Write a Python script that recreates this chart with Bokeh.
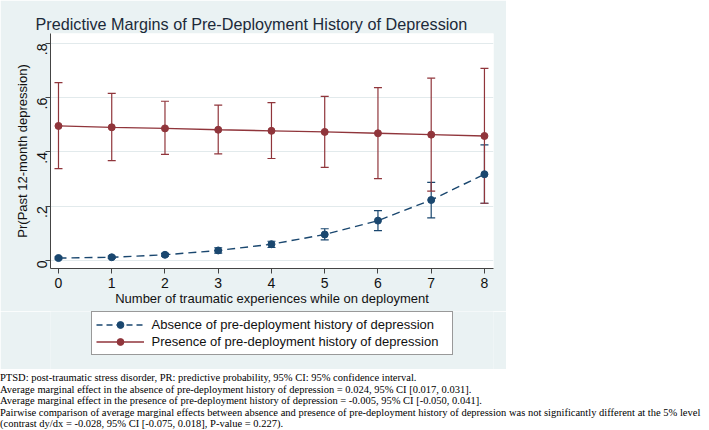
import math
from bokeh.plotting import figure
from bokeh.models import (Range1d, FixedTicker, Whisker, TeeHead, ColumnDataSource,
                          Legend, LegendItem, Div)
from bokeh.layouts import column
from bokeh.embed import file_html
from bokeh.resources import INLINE

# ---------------- data ----------------
x_vals = [0, 1, 2, 3, 4, 5, 6, 7, 8]
absence_pr = [0.009, 0.012, 0.021, 0.037, 0.060, 0.096, 0.147, 0.223, 0.318]
absence_lo = [0.005, 0.008, 0.016, 0.027, 0.048, 0.076, 0.110, 0.157, 0.211]
absence_hi = [0.013, 0.016, 0.026, 0.047, 0.071, 0.117, 0.184, 0.288, 0.426]
presence_pr = [0.496, 0.491, 0.487, 0.482, 0.478, 0.474, 0.469, 0.464, 0.459]
presence_lo = [0.339, 0.368, 0.391, 0.393, 0.376, 0.343, 0.302, 0.256, 0.211]
presence_hi = [0.656, 0.616, 0.587, 0.573, 0.582, 0.605, 0.637, 0.672, 0.708]

y_ticks = [0, 0.2, 0.4, 0.6, 0.8]
y_tick_labels = ["0", ".2", ".4", ".6", ".8"]
x_tick_labels = ["0", "1", "2", "3", "4", "5", "6", "7", "8"]

title_text = "Predictive Margins of Pre-Deployment History of Depression"
x_label = "Number of traumatic experiences while on deployment"
y_label = "Pr(Past 12-month depression)"
legend_labels = ["Absence of pre-deployment history of depression",
                 "Presence of pre-deployment history of depression"]
footer_lines = [
    "PTSD: post-traumatic stress disorder, PR: predictive probability, 95% CI: 95% confidence interval.",
    "Average marginal effect in the absence of pre-deployment history of depression = 0.024, 95% CI [0.017, 0.031].",
    "Average marginal effect in the presence of pre-deployment history of depression = -0.005, 95% CI [-0.050, 0.041].",
    "Pairwise comparison of average marginal effects between absence and presence of pre-deployment history of depression was not significantly different at the 5% level",
    "(contrast dy/dx = -0.028, 95% CI [-0.075, 0.018], P-value = 0.227).",
]

# ---------------- style ----------------
BG = "#eaf2f3"
NAVY = "#1a476f"
CRAN = "#90353b"
FONT = "Liberation Sans"
PANEL_W = 506
PLOT_H, LEG_H, FOOT_H = 311, 58, 61
FR_L, FR_R, FR_T, FR_B = 50, 493, 33, 268

p = figure(width=PANEL_W, height=PLOT_H,
           x_range=Range1d(-0.15, 8.17), y_range=Range1d(-0.0295, 0.8368),
           output_backend="svg", toolbar_location=None,
           min_border_left=FR_L, min_border_right=PANEL_W - FR_R,
           min_border_top=FR_T, min_border_bottom=PLOT_H - FR_B)
p.border_fill_color = BG
p.background_fill_color = "white"
p.outline_line_color = None

p.title.text = title_text
p.title.text_font = FONT
p.title.text_font_size = "16.2px"
p.title.text_font_style = "normal"
p.title.text_color = "#1c2a3a"
p.title.align = "left"
p.title.offset = -15
p.title.standoff = 2

p.xaxis.ticker = FixedTicker(ticks=x_vals)
p.xaxis.major_label_overrides = dict(zip(x_vals, x_tick_labels))
p.yaxis.ticker = FixedTicker(ticks=y_ticks)
p.yaxis.major_label_overrides = dict(zip(y_ticks, y_tick_labels))
p.yaxis.major_label_orientation = math.pi / 2

p.xaxis.axis_label = x_label
p.yaxis.axis_label = y_label
for ax in (p.xaxis, p.yaxis):
    ax.axis_line_color = "#444444"
    ax.major_tick_line_color = "#444444"
    ax.minor_tick_line_color = None
    ax.major_tick_out = 5
    ax.major_tick_in = 0
    ax.major_label_text_font = FONT
    ax.major_label_text_font_size = "14px"
    ax.major_label_text_color = "#111111"
    ax.axis_label_text_font = FONT
    ax.axis_label_text_font_size = "13px"
    ax.axis_label_text_font_style = "normal"
    ax.axis_label_text_color = "#111111"
p.xaxis.major_label_standoff = 4
p.xaxis.axis_label_standoff = 0
p.yaxis.major_label_standoff = 3
p.yaxis.axis_label_standoff = 0

p.xgrid.grid_line_color = None
p.ygrid.grid_line_color = "#e2eaec"
p.ygrid.grid_line_width = 1

src_a = ColumnDataSource(dict(x=x_vals, y=absence_pr, lo=absence_lo, hi=absence_hi))
src_p = ColumnDataSource(dict(x=x_vals, y=presence_pr, lo=presence_lo, hi=presence_hi))

def whisk(src, col):
    return Whisker(source=src, base="x", lower="lo", upper="hi",
                   line_color=col, line_width=1.2,
                   upper_head=TeeHead(size=8, line_color=col, line_width=1.2),
                   lower_head=TeeHead(size=8, line_color=col, line_width=1.2))

p.add_layout(whisk(src_a, NAVY))
p.line("x", "y", source=src_a, line_color=NAVY, line_dash="8 5", line_width=1.4)
p.scatter("x", "y", source=src_a, size=7, color=NAVY)

p.add_layout(whisk(src_p, CRAN))
p.line("x", "y", source=src_p, line_color=CRAN, line_width=1.3)
p.scatter("x", "y", source=src_p, size=7, color=CRAN)

# ---------------- legend strip (series drawn off-frame, legend glyphs only) ----------------
lf = figure(width=PANEL_W, height=LEG_H, x_range=Range1d(100, 101), y_range=Range1d(100, 101),
            output_backend="svg", toolbar_location=None, min_border=0,
            x_axis_location=None, y_axis_location=None)
lf.grid.visible = False
lf.outline_line_color = None
lf.border_fill_color = BG
lf.background_fill_color = BG
la = lf.line("x", "y", source=src_a, line_color=NAVY, line_dash="6 4", line_width=1.4)
sa = lf.scatter("x", "y", source=src_a, size=5, color=NAVY)
lp = lf.line("x", "y", source=src_p, line_color=CRAN, line_width=1.3)
sp = lf.scatter("x", "y", source=src_p, size=5, color=CRAN)

legend = Legend(items=[LegendItem(label=legend_labels[0], renderers=[la, sa]),
                       LegendItem(label=legend_labels[1], renderers=[lp, sp])],
                location="top_center", orientation="vertical",
                padding=4, spacing=0, label_height=17, glyph_height=17,
                glyph_width=48, label_width=296, label_standoff=8, margin=0,
                border_line_color="#333333", border_line_width=1,
                background_fill_color="white", background_fill_alpha=1,
                label_text_font=FONT, label_text_font_size="13px",
                label_text_color="#111111")
lf.add_layout(legend, "center")

# ---------------- footer ----------------
footer = Div(text="<br>".join(footer_lines), width=709, height=FOOT_H, margin=(0, 0, 0, 0),
             styles={"font-family": "'Liberation Serif', serif", "font-size": "10.5px",
                     "line-height": "11.5px", "white-space": "nowrap", "color": "#000000",
                     "padding-top": "3px", "overflow": "hidden", "background": "white"})

layout = column(p, lf, footer, spacing=0)
open("out.html", "w").write(file_html(layout, INLINE))
